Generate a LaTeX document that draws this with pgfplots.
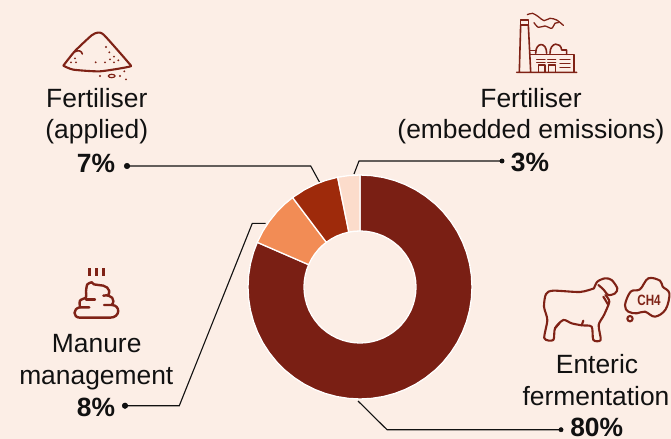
\documentclass[border=0pt]{standalone}
\usepackage{fontspec}
\setmainfont{Liberation Sans}
\usepackage{pgfplots}
\usepgfplotslibrary{polar}
\pgfplotsset{compat=1.18}
\definecolor{bg}{HTML}{FCEEE6}
\definecolor{enteric}{HTML}{7A1F14}
\definecolor{manure}{HTML}{F28C55}
\definecolor{applied}{HTML}{9E2A0B}
\definecolor{embedded}{HTML}{FCDCCB}
\definecolor{icon}{HTML}{7F2216}
\definecolor{ink}{HTML}{111111}
\newcommand{\lab}[3]{\node[anchor=base,text=ink,inner sep=0pt] at (axis cs:#1,#2) {\fontsize{26.5}{30}\selectfont #3};}
\tikzset{leader/.style={ink,line width=1.1bp,mark=none},
  ic/.style={icon,line width=2.1bp,line cap=round,line join=round},
  dot/.style={only marks,mark=*,mark size=2.8bp,mark options={fill=ink,draw=none}}}
\begin{document}
\begin{tikzpicture}
\path[use as bounding box] (0,0) rectangle (671bp,439bp);
% page in pixel coordinates: background, leaders, text
\begin{axis}[at={(0,0)},anchor=south west,scale only axis,width=671bp,height=439bp,
  xmin=0,xmax=671,ymin=0,ymax=439,y dir=reverse,hide axis,clip=false]
\addplot[fill=bg,draw=none] coordinates {(0,0)(671,0)(671,439)(0,439)} -- cycle;
\addplot[leader] coordinates {(127,166)(310.7,166)(320,183)};
\addplot[leader] coordinates {(502,161)(359,161)(354,174)};
\addplot[leader] coordinates {(125,405.7)(179.3,405.7)(252.3,223.3)(265.7,223.3)};
\addplot[leader] coordinates {(561,429.7)(387,429.7)(358,401)};
\addplot[dot] coordinates {(127,166)};
\addplot[dot,mark size=2.2bp] coordinates {(502,161)};
\addplot[dot] coordinates {(125,405.7)};
\addplot[dot,mark size=2.2bp] coordinates {(561,429.7)};
\lab{96.8}{107}{Fertiliser}
\lab{96.8}{138.5}{(applied)}
\lab{96}{172}{\textbf{7\%}}
\lab{531}{107}{Fertiliser}
\lab{531}{138.5}{(embedded emissions)}
\lab{530}{171}{\textbf{3\%}}
\lab{96.7}{352}{Manure}
\lab{96.3}{384}{management}
\lab{96}{416.5}{\textbf{8\%}}
\lab{597}{373}{Enteric}
\lab{596}{405}{fermentation}
\lab{596.7}{436}{\textbf{80\%}}
\end{axis}
% donut, boundaries in degrees and radii in pixels
\begin{polaraxis}[at={(360bp,152bp)},anchor=center,scale only axis,width=224bp,height=224bp,
  xmin=0,xmax=360,ymin=0,ymax=112,hide axis,clip=false]
\addplot[fill=enteric,draw=white,line width=1.3bp] coordinates {
(90,112)(84,112)(78,112)(72,112)(66,112)(60,112)(54,112)(48,112)(42,112)(36,112)(30,112)(24,112)(18,112)(12,112)(6,112)(0,112)
(-6,112)(-12,112)(-18,112)(-24,112)(-30,112)(-36,112)(-42,112)(-48,112)(-54,112)(-60,112)(-66,112)(-72,112)(-78,112)(-84,112)
(-90,112)(-96,112)(-102,112)(-108,112)(-114,112)(-120,112)(-126,112)(-132,112)(-138,112)(-144,112)(-150,112)(-156,112)
(-162,112)(-168,112)(-174,112)(-180,112)(-186,112)(-192,112)(-198,112)(-203.5,112)
(-203.5,56)(-198,56)(-192,56)(-186,56)(-180,56)(-174,56)(-168,56)(-162,56)(-156,56)(-150,56)(-144,56)(-138,56)(-132,56)(-126,56)
(-120,56)(-114,56)(-108,56)(-102,56)(-96,56)(-90,56)(-84,56)(-78,56)(-72,56)(-66,56)(-60,56)(-54,56)(-48,56)(-42,56)(-36,56)
(-30,56)(-24,56)(-18,56)(-12,56)(-6,56)(0,56)(6,56)(12,56)(18,56)(24,56)(30,56)(36,56)(42,56)(48,56)(54,56)(60,56)(66,56)(72,56)
(78,56)(84,56)(90,56)} -- cycle;
\addplot[fill=manure,draw=white,line width=1.3bp] coordinates {
(156.5,112)(150,112)(144,112)(138,112)(132,112)(127,112)
(127,56)(132,56)(138,56)(144,56)(150,56)(156.5,56)} -- cycle;
\addplot[fill=applied,draw=white,line width=1.3bp] coordinates {
(127,112)(120,112)(114,112)(108,112)(101.5,112)
(101.5,56)(108,56)(114,56)(120,56)(127,56)} -- cycle;
\addplot[fill=embedded,draw=white,line width=1.3bp] coordinates {
(101.5,112)(96,112)(90,112)(90,56)(96,56)(101.5,56)} -- cycle;
\end{polaraxis}
% icons, in 3x zoom coordinates of their crops
\begin{scope}[x=0.33333bp,y=-0.33333bp,shift={(30bp,439bp)}]
\draw[ic] plot[smooth,tension=.35] coordinates {(100,197)(135,153)(185,106)(203,98)(222,105)(297,190)(298,200)(210,214)(130,209)(100,197)};
\draw[ic,line width=1.6bp] (135,155) .. controls (145,150) and (155,152) .. (157,162);
\foreach \p in {(228,141),(238,157),(252,170),(265,181),(252,187),(225,187),(240,178),(197,187),(135,175),(123,187),(138,187),(210,228),(270,228),(283,214),(288,238)}
  \fill[icon] \p circle[radius=3.2];
\draw[icon,line width=1.2bp] (245,228) ellipse[x radius=10,y radius=5];
\end{scope}
\begin{scope}[x=0.33333bp,y=-0.33333bp,shift={(390bp,439bp)}]
\draw[ic,line width=1.6bp] (392,60) -- (415,60) -- (415,75) -- (392,75) -- cycle;
\draw[ic,line width=1.6bp] (392,75) -- (388,215) (415,75) -- (422,215) (380,217) -- (560,217);
\draw[ic,line width=1.6bp] (420,163) -- (552,163) -- (552,215) (420,152) -- (437,152);
\draw[ic,line width=1.6bp] (437,160) .. controls (437,125) and (470,125) .. (470,160);
\draw[ic,line width=1.6bp] (480,160) .. controls (480,125) and (513,125) .. (515,150) -- (530,150) -- (530,163);
\draw[ic,line width=1.3bp] (440,178) -- (465,178) (473,178) -- (497,178) (510,178) -- (540,178)
  (440,188) -- (465,188) (473,188) -- (497,188) (510,190) -- (540,190) (510,202) -- (540,202);
\draw[ic,line width=1.3bp] (445,215) -- (445,195) -- (465,195) -- (465,215) (475,215) -- (475,195) -- (497,195) -- (497,215);
\draw[ic,line width=1.3bp] plot[smooth] coordinates {(412,44)(428,40)(445,50)(462,62)(480,55)(500,60)(520,76)};
\draw[ic,line width=1.3bp] plot[smooth] coordinates {(432,68)(445,82)(465,78)(485,85)(495,70)(505,68)};
\end{scope}
\begin{scope}[x=0.33333bp,y=-0.33333bp,shift={(0bp,439bp)}]
\begin{scope}[yshift=-250bp]
\draw[icon,line width=2.4bp] (268,55) -- (268,77) (290,55) -- (290,77) (311,55) -- (311,77);
\draw[ic,line width=2.4bp] plot[smooth,tension=.5] coordinates {(275,97)(262,103)(258,125)(258,142)(240,152)(240,172)};
\draw[ic,line width=2.4bp] (268,172) -- (240,172) .. controls (218,175) and (218,203) .. (240,203) -- (330,203) .. controls (362,203) and (362,165) .. (335,165) -- (312,165);
\draw[ic,line width=2.4bp] (335,165) .. controls (348,150) and (335,132) .. (310,137);
\draw[ic,line width=2.4bp] (325,135) .. controls (335,115) and (315,105) .. (295,105) .. controls (285,105) and (278,103) .. (275,97);
\draw[ic,line width=2.4bp] (258,148) -- (285,148);
\end{scope}
\end{scope}
\begin{scope}[x=0.33333bp,y=-0.33333bp,shift={(500bp,439bp)}]
\begin{scope}[yshift=-260bp]
\draw[ic] plot[smooth,tension=.45] coordinates {(282,85)(240,96)(160,92)(138,102)(132,140)(142,180)(133,235)(160,240)(165,205)(190,180)(215,190)(245,196)(275,200)(280,240)(302,240)(296,195)(312,165)(328,125)(316,105)};
\draw[ic] plot[smooth,tension=.5] coordinates {(282,85)(292,65)(315,55)(335,60)(352,85)(345,100)(325,105)(310,88)(295,75)};
\draw[ic] (310,110) -- (325,135) (165,205) -- (178,190) (245,196) -- (250,182);
\draw[ic] plot[smooth cycle,tension=.6] coordinates {(375,135)(392,95)(420,88)(445,55)(480,62)(488,80)(508,100)(497,148)(465,170)(435,155)(410,160)(385,155)};
\draw[ic] (390,176) circle[radius=8];
\node[icon,inner sep=0pt] at (447,120) {\scalebox{.78}[1]{\fontsize{15}{15}\selectfont\bfseries CH4}};
\end{scope}
\end{scope}
\end{tikzpicture}
\end{document}
